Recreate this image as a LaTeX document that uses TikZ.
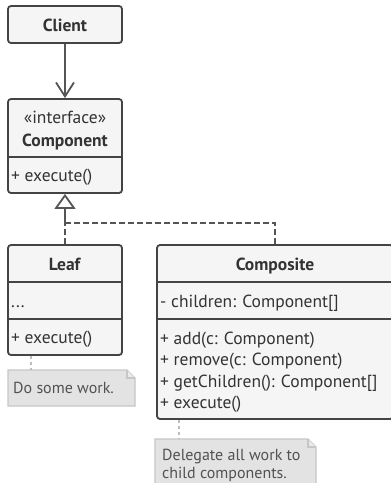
\documentclass[tikz,border=0pt]{standalone}
\usepackage{fontspec}
\setmainfont{PT Sans}
\usetikzlibrary{arrows.meta,calc}
\definecolor{boxfill}{HTML}{F5F5F5}
\definecolor{boxline}{HTML}{444444}
\definecolor{txt}{HTML}{333333}
\definecolor{notefill}{HTML}{E3E3E3}
\definecolor{noteline}{HTML}{C6C6C6}
\definecolor{conn}{HTML}{555555}
\definecolor{noteconn}{HTML}{BDBDBD}
\tikzset{
  box/.style={draw=boxline, fill=boxfill, line width=1.8pt, rounded corners=3pt, inner sep=0pt},
  divider/.style={draw=boxline, line width=1.8pt},
  lbl/.style={text=txt, inner sep=0pt, font=\fontsize{17.5}{20}\selectfont, anchor=base},
  mem/.style={text=txt, inner sep=0pt, font=\fontsize{17.5}{20}\selectfont, anchor=base west},
  notebox/.style={draw=noteline, fill=notefill, line width=1.2pt},
  notetxt/.style={text=txt!85!white, inner sep=0pt, font=\fontsize{16}{19}\selectfont, anchor=base west},
  assoc/.style={draw=conn, line width=1.8pt, -{Straight Barb[length=14pt,width=18pt,line width=1.8pt]}},
  realize/.style={draw=conn, line width=1.8pt, dash pattern=on 6pt off 3pt},
  noteconn/.style={draw=noteconn, line width=1.5pt, dash pattern=on 3pt off 3pt}
}
\begin{document}
\begin{tikzpicture}[x=1pt,y=-1pt]
\useasboundingbox (0,0) rectangle (391,483);
\clip (0,0) rectangle (391,483);
% Client
\node[box, minimum width=114pt, minimum height=37pt] (client) at (65,24.5) {};
\node[lbl] (clientt) at (65,31) {\textbf{Client}};
% Component
\node[box, minimum width=114pt, minimum height=94pt] (comp) at (65,146) {};
\draw[divider] (8,157) -- (122,157);
\node[lbl] (compst) at (65,123) {«interface»};
\node[lbl] (compt) at (65,146) {\textbf{Component}};
\node[mem] (compm) at (11,181) {+ execute()};
% Leaf
\node[box, minimum width=114pt, minimum height=110pt] (leaf) at (65,300) {};
\draw[divider] (8,282) -- (122,282);
\draw[divider] (8,319) -- (122,319);
\node[lbl] (leaft) at (65,270) {\textbf{Leaf}};
\node[mem] (leafa) at (11,307) {...};
\node[mem] (leafm) at (11,343) {+ execute()};
% Composite
\node[box, minimum width=236pt, minimum height=174pt] (compo) at (275,332) {};
\draw[divider] (157,282) -- (393,282);
\draw[divider] (157,319) -- (393,319);
\node[lbl] (compot) at (275,270) {\textbf{Composite}};
\node[mem] (compoa) at (160,307) {- children: Component[]};
\node[mem] (compom1) at (160,344) {+ add(c: Component)};
\node[mem] (compom2) at (160,365.5) {+ remove(c: Component)};
\node[mem] (compom3) at (160,387) {+ getChildren(): Component[]};
\node[mem] (compom4) at (160,408.5) {+ execute()};
% connectors
\draw[assoc] (client.south) -- (comp.north);
\coordinate (j) at (65,223);
\draw[realize] (compo.north) |- (j);
\draw[realize] (leaf.north) -- (j);
\draw[draw=conn, line width=1.8pt, -{Triangle[open, length=15pt, width=21pt, line width=1.8pt, fill=white]}] (j) -- (comp.south);
% note 1
\draw[notebox] (8,370) -- (127,370) -- (135,378) -- (135,406) -- (8,406) -- cycle;
\draw[notebox, fill=notefill!80!white] (127,370) -- (127,378) -- (135,378);
\node[notetxt] (note1) at (13,393) {Do some work.};
\coordinate (n1top) at (31,370);
\draw[noteconn] (leaf.south -| n1top) -- (n1top);
% note 2
\draw[notebox] (155,439) -- (308,439) -- (316,447) -- (316,500) -- (155,500) -- cycle;
\draw[notebox, fill=notefill!80!white] (308,439) -- (308,447) -- (316,447);
\node[notetxt] (note2a) at (162,460) {Delegate all work to};
\node[notetxt] (note2b) at (162,478) {child components.};
\coordinate (n2top) at (179,439);
\draw[noteconn] (compo.south -| n2top) -- (n2top);
\end{tikzpicture}
\end{document}
